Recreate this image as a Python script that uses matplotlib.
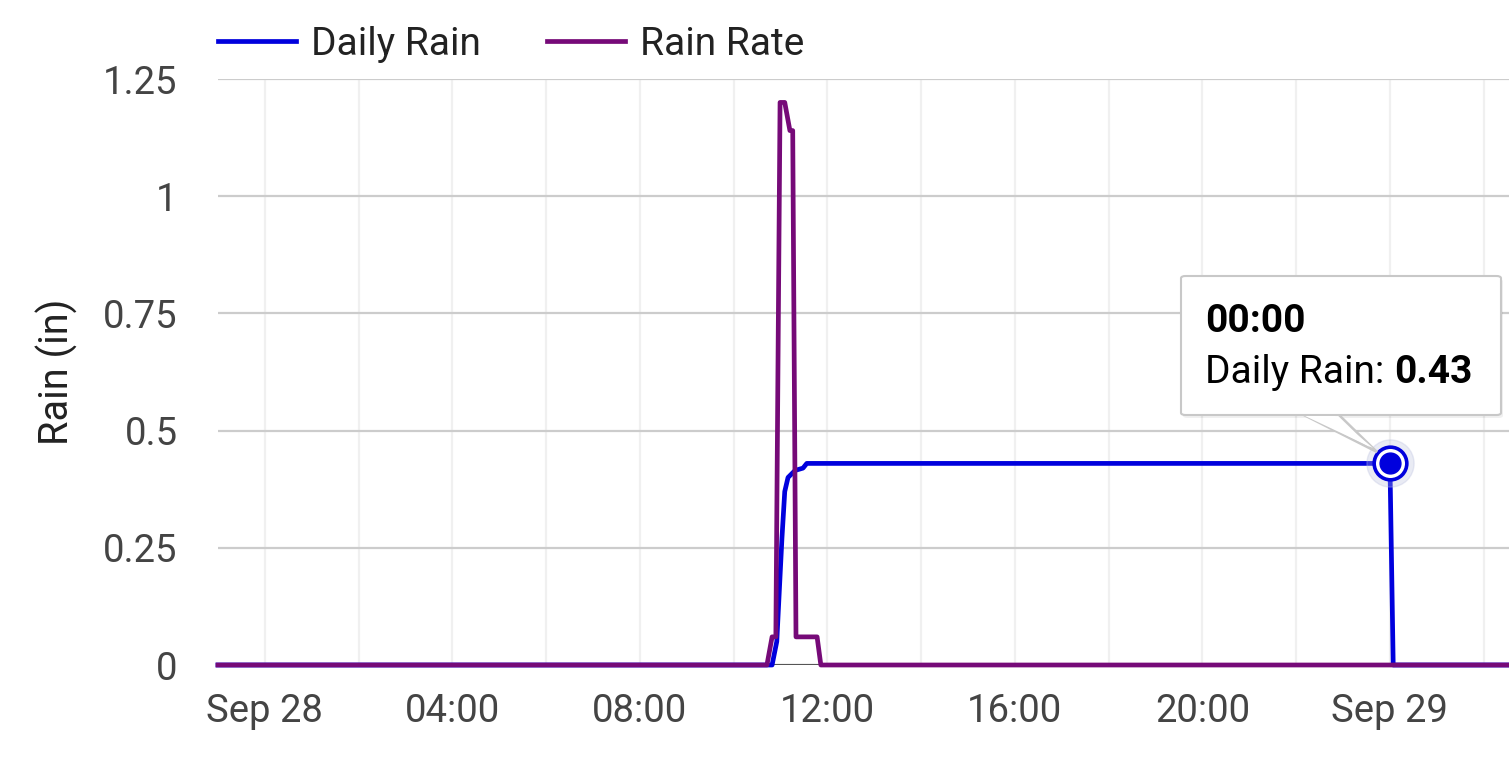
import matplotlib
matplotlib.use("Agg")
import matplotlib.pyplot as plt
import matplotlib.dates as mdates
from matplotlib.patches import FancyBboxPatch, Polygon
import pandas as pd

plt.rcParams['font.family'] = ['Roboto', 'DejaVu Sans']

# ---- data (hours relative to Sep 28 00:00) ----
rate_hours = [-1.0, 10.71, 10.82, 10.90, 10.99, 11.09, 11.20, 11.26, 11.33, 11.78, 11.86, 26.55]
rate_values = [0, 0, 0.06, 0.06, 1.20, 1.20, 1.14, 1.14, 0.06, 0.06, 0, 0]

daily_hours = [-1.0, 10.82, 10.92, 11.03, 11.09, 11.16, 11.31, 11.48, 11.56, 24.0, 24.07, 26.55]
daily_values = [0, 0, 0.05, 0.27, 0.37, 0.40, 0.415, 0.42, 0.43, 0.43, 0, 0]

tip_hour = 24.0
tip_value = 0.43
tip_time = "00:00"

y_ticks = [0, 0.25, 0.5, 0.75, 1, 1.25]
y_tick_labels = ["0", "0.25", "0.5", "0.75", "1", "1.25"]

base = pd.Timestamp("2023-09-28 00:00")
def to_dt(hours):
    return [base + pd.Timedelta(hours=h) for h in hours]

W, H = 1509, 768
fig = plt.figure(figsize=(W / 100, H / 100), dpi=100)
ax = fig.add_axes([218 / W, (H - 665) / H, (1509 - 218) / W, (665 - 79) / H])

blue = '#0000dd'
purple = '#760a78'

ax.plot(to_dt(daily_hours), daily_values, color=blue, lw=3.4, zorder=4,
        solid_joinstyle='round', clip_on=False, label='Daily Rain')
ax.plot(to_dt(rate_hours), rate_values, color=purple, lw=3.4, zorder=5,
        solid_joinstyle='round', clip_on=False, label='Rain Rate')
ax.axhline(0, color='#555555', lw=1.5, zorder=3)

ax.set_xlim(base + pd.Timedelta(hours=-1.0), base + pd.Timedelta(hours=26.54))
ax.set_ylim(0, 1.25)

ax.set_yticks(y_ticks)
ax.set_yticklabels(y_tick_labels)
ax.yaxis.grid(True, color='#cccccc', lw=1.6, zorder=1)

major = [base + pd.Timedelta(hours=h) for h in range(0, 27, 4)]
ax.set_xticks(major)
def fmt(x, pos=None):
    d = mdates.num2date(x)
    if d.hour == 0 and d.minute == 0:
        return d.strftime("%b %d").replace(" 0", " ")
    return d.strftime("%H:%M")
ax.xaxis.set_major_formatter(plt.FuncFormatter(fmt))
minor = [base + pd.Timedelta(hours=h) for h in range(0, 27, 2)]
ax.set_xticks(minor, minor=True)
ax.xaxis.grid(True, which='both', color='#f0f0f0', lw=1.6, zorder=0)

for s in ax.spines.values():
    s.set_visible(False)
ax.tick_params(axis='both', which='both', length=0, labelsize=27.5, colors='#444444')
ax.tick_params(axis='y', pad=29)
ax.tick_params(axis='x', pad=20)
ax.set_ylabel("Rain (in)", fontsize=28.5, color='#222222', labelpad=18)

leg = ax.legend(loc='lower left', bbox_to_anchor=(0.0, 1.0), ncol=2, frameon=False,
                fontsize=28, handlelength=2.0, handletextpad=0.38, columnspacing=1.72,
                borderaxespad=0.0, borderpad=0.0)
leg.set_bbox_to_anchor((0.0, 1.0 + 16 / 586), transform=ax.transAxes)
for t in leg.get_texts():
    t.set_color('#222222')

# ---- tooltip marker ----
tdt = base + pd.Timedelta(hours=tip_hour)
ax.plot([tdt], [tip_value], 'o', ms=34, color='#b8bedd', alpha=0.3, zorder=6, clip_on=False)
ax.plot([tdt], [tip_value], 'o', ms=23.5, mfc='white', mec=blue, mew=2.6, zorder=7, clip_on=False)
ax.plot([tdt], [tip_value], 'o', ms=15, color=blue, zorder=8, clip_on=False)

# ---- tooltip box (figure pixel coords) ----
def fx(px): return px / W
def fy(py): return (H - py) / H
bx0, by0, bx1, by1 = 1181, 276, 1501, 415
shadow = FancyBboxPatch((fx(bx0 + 2), fy(by1 + 3)), fx(bx1) - fx(bx0), fy(by0) - fy(by1),
                        boxstyle="round,pad=0,rounding_size=0.003", transform=fig.transFigure,
                        facecolor='#000000', alpha=0.06, edgecolor='none', zorder=9)
fig.add_artist(shadow)
tail = Polygon([(fx(1302), fy(by1 - 1)), (fx(1377), fy(452)), (fx(1338), fy(by1 - 1))],
               closed=True, transform=fig.transFigure, facecolor='white',
               edgecolor='#c8c8c8', lw=1.8, zorder=10)
fig.add_artist(tail)
box = FancyBboxPatch((fx(bx0), fy(by1)), fx(bx1) - fx(bx0), fy(by0) - fy(by1),
                     boxstyle="round,pad=0,rounding_size=0.003", transform=fig.transFigure,
                     facecolor='white', edgecolor='#c8c8c8', lw=1.5, zorder=11)
fig.add_artist(box)
tail_fill = Polygon([(fx(1305), fy(by1 + 1)), (fx(1373), fy(448)), (fx(1335), fy(by1 + 1))],
                    closed=True, transform=fig.transFigure, facecolor='white',
                    edgecolor='none', zorder=12)
fig.add_artist(tail_fill)

fig.text(fx(1205), fy(332), tip_time, fontsize=28, fontweight='bold', color='#000000',
         va='baseline', ha='left', zorder=13)
t1 = fig.text(fx(1205), fy(383), "Daily Rain: ", fontsize=28, color='#000000',
              va='baseline', ha='left', zorder=13)
fig.canvas.draw()
bb = t1.get_window_extent()
fig.text(bb.x1 / W, fy(383), f"{tip_value:.2f}", fontsize=28, fontweight='bold',
         color='#000000', va='baseline', ha='left', zorder=13)

fig.savefig("out.png", dpi=100)
